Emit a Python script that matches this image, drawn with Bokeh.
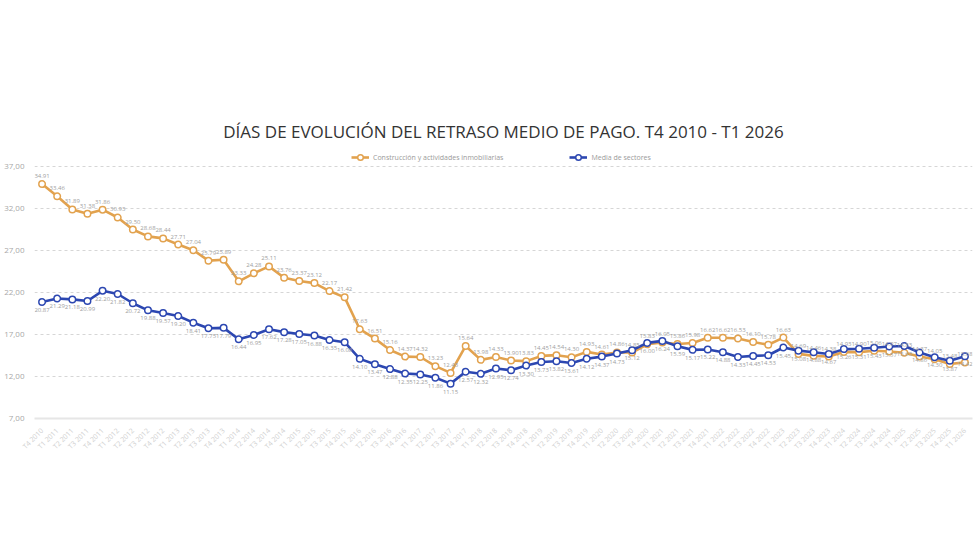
import math
from bokeh.plotting import figure
from bokeh.models import (Range1d, FixedTicker, Legend, LegendItem, ColumnDataSource,
                          LabelSet, CustomJSTickFormatter)
from bokeh.embed import file_html
from bokeh.resources import INLINE
from bokeh.core.properties import value

quarters = [
    "T4 2010",
    "T1 2011", "T2 2011", "T3 2011", "T4 2011",
    "T1 2012", "T2 2012", "T3 2012", "T4 2012",
    "T1 2013", "T2 2013", "T3 2013", "T4 2013",
    "T1 2014", "T2 2014", "T3 2014", "T4 2014",
    "T1 2015", "T2 2015", "T3 2015", "T4 2015",
    "T1 2016", "T2 2016", "T3 2016", "T4 2016",
    "T1 2017", "T2 2017", "T3 2017", "T4 2017",
    "T1 2018", "T2 2018", "T3 2018", "T4 2018",
    "T1 2019", "T2 2019", "T3 2019", "T4 2019",
    "T1 2020", "T2 2020", "T3 2020", "T4 2020",
    "T1 2021", "T2 2021", "T3 2021", "T4 2021",
    "T1 2022", "T2 2022", "T3 2022", "T4 2022",
    "T1 2023", "T2 2023", "T3 2023", "T4 2023",
    "T1 2024", "T2 2024", "T3 2024", "T4 2024",
    "T1 2025", "T2 2025", "T3 2025", "T4 2025",
    "T1 2026",
]

construccion = [
    34.91,
    33.46, 31.89, 31.38, 31.86,
    30.93, 29.50, 28.68, 28.44,
    27.71, 27.04, 25.79, 25.89,
    23.33, 24.28, 25.11, 23.76,
    23.37, 23.12, 22.17, 21.42,
    17.63, 16.51, 15.16, 14.37,
    14.32, 13.23, 12.43, 15.64,
    13.98, 14.33, 13.90, 13.83,
    14.45, 14.54, 14.30, 14.93,
    14.61, 14.86, 14.85, 15.83,
    16.05, 15.86, 15.98, 16.62,
    16.62, 16.53, 16.10, 15.78,
    16.63, 14.69, 14.46, 14.38,
    14.93, 14.90, 15.06, 14.97,
    14.83, 14.37, 14.05, 13.48,
    13.68,
]

media_sectores = [
    20.87,
    21.29, 21.18, 20.99, 22.20,
    21.82, 20.72, 19.88, 19.57,
    19.20, 18.41, 17.75, 17.79,
    16.44, 16.95, 17.62, 17.28,
    17.05, 16.88, 16.35, 16.08,
    14.10, 13.47, 12.88, 12.35,
    12.25, 11.86, 11.15, 12.57,
    12.32, 12.95, 12.74, 13.30,
    13.73, 13.82, 13.61, 14.12,
    14.37, 14.73, 15.12, 16.00,
    16.24, 15.59, 15.17, 15.22,
    14.88, 14.33, 14.45, 14.53,
    15.45, 15.08, 14.88, 14.67,
    15.26, 15.31, 15.43, 15.57,
    15.63, 14.86, 14.30, 13.87,
    14.42,
]

y_ticks = [7, 12, 17, 22, 27, 32, 37]

title_text = "DÍAS DE EVOLUCIÓN DEL RETRASO MEDIO DE PAGO. T4 2010 - T1 2026"
serie_1 = "Construcción y actividades inmobiliarias"
serie_2 = "Media de sectores"

ORANGE = "#E2A24E"
BLUE = "#2C47B1"
FONT = "Open Sans"

xs = list(range(len(quarters)))
src = ColumnDataSource(dict(
    x=xs,
    c=construccion,
    m=media_sectores,
    c_lab=["%.2f" % v for v in construccion],
    m_lab=["%.2f" % v for v in media_sectores],
))

# frame: 37 at y=166, 7 at y=418 -> 8.4 px per unit; extra headroom for the legend
PX = 252 / 30.0
HEAD = 21
p = figure(width=980, height=560, output_backend="svg", toolbar_location=None,
           x_range=Range1d(-0.5, len(quarters) - 0.5),
           y_range=Range1d(7, 37 + HEAD / PX),
           min_border_left=34, min_border_right=8, min_border_top=166 - HEAD,
           min_border_bottom=142)
p.outline_line_color = None
p.background_fill_color = "white"
p.border_fill_color = "white"

# title
p.title.text = title_text
p.title.align = "center"
p.title.text_font = FONT
p.title.text_font_size = "17px"
p.title.text_font_style = "normal"
p.title.text_color = "#333333"
p.title.offset = -13
p.title.standoff = 6

# grid
p.xgrid.visible = False
p.ygrid.ticker = FixedTicker(ticks=y_ticks[1:])
p.ygrid.grid_line_color = "#d6d6d6"
p.ygrid.grid_line_dash = "3 3"
p.ygrid.grid_line_width = 1

# y axis
p.yaxis.ticker = FixedTicker(ticks=y_ticks)
p.yaxis.formatter = CustomJSTickFormatter(code="return tick.toFixed(2).replace('.', ',');")
p.yaxis.axis_line_color = None
p.yaxis.major_tick_line_color = None
p.yaxis.minor_tick_line_color = None
p.yaxis.major_label_text_font = FONT
p.yaxis.major_label_text_font_size = "8px"
p.yaxis.major_label_text_color = "#a8a8a8"
p.yaxis.major_label_standoff = 4

# x axis
p.xaxis.ticker = FixedTicker(ticks=xs)
p.xaxis.major_label_overrides = {i: q for i, q in zip(xs, quarters)}
p.xaxis.major_label_orientation = math.pi / 4
p.xaxis.axis_line_color = "#e6e6e6"
p.xaxis.axis_line_width = 2
p.xaxis.major_tick_line_color = None
p.xaxis.minor_tick_line_color = None
p.xaxis.major_label_text_font = FONT
p.xaxis.major_label_text_font_size = "7px"
p.xaxis.major_label_text_color = "#cfcfcf"
p.xaxis.major_label_standoff = 5

# series
l1 = p.line("x", "c", source=src, line_color=ORANGE, line_width=2.6)
s1 = p.scatter("x", "c", source=src, marker="circle", size=6.5, fill_color="white",
               line_color=ORANGE, line_width=1.5)
l2 = p.line("x", "m", source=src, line_color=BLUE, line_width=2.6)
s2 = p.scatter("x", "m", source=src, marker="circle", size=6.5, fill_color="white",
               line_color=BLUE, line_width=1.5)

lab1 = LabelSet(x="x", y="c", text="c_lab", source=src, y_offset=6,
                text_align="center", text_baseline="bottom",
                text_font=value(FONT), text_font_size="6px", text_color="#a0a0a0")
lab2 = LabelSet(x="x", y="m", text="m_lab", source=src, y_offset=-6,
                text_align="center", text_baseline="top",
                text_font=value(FONT), text_font_size="6px", text_color="#a0a0a0")
p.add_layout(lab1)
p.add_layout(lab2)

legend = Legend(items=[LegendItem(label=serie_1, renderers=[l1, s1]),
                       LegendItem(label=serie_2, renderers=[l2, s2])],
                orientation="horizontal", location=(317, 252 + HEAD - 19),
                label_text_font=FONT, label_text_font_size="7px",
                label_text_color="#9a9a9a", glyph_width=18, glyph_height=14,
                label_standoff=4, spacing=66, padding=0, margin=0,
                border_line_color=None, background_fill_alpha=0)
p.add_layout(legend, "center")

open("out.html", "w").write(file_html(p, INLINE))
